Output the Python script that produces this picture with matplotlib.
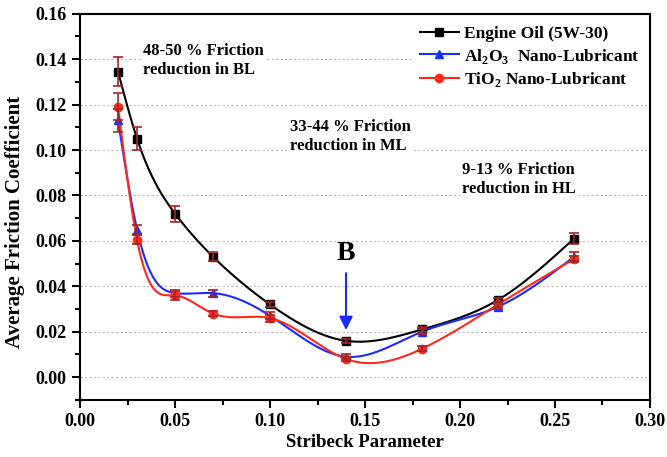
import numpy as np
import matplotlib
matplotlib.use("Agg")
import matplotlib.pyplot as plt
from matplotlib.ticker import MultipleLocator, FormatStrFormatter

plt.rcParams['font.family'] = ['Liberation Serif', 'DejaVu Serif']
plt.rcParams['font.weight'] = 'bold'
plt.rcParams['mathtext.fontset'] = 'custom'
plt.rcParams['mathtext.rm'] = 'Liberation Serif:bold'
plt.rcParams['mathtext.bf'] = 'Liberation Serif:bold'

stribeck = [0.02, 0.03, 0.05, 0.07, 0.10, 0.14, 0.18, 0.22, 0.26]
oil = [0.1345, 0.105, 0.072, 0.053, 0.032, 0.016, 0.021, 0.034, 0.061]
oil_err = [0.0065, 0.005, 0.0035, 0.002, 0.001, 0.001, 0.001, 0.001, 0.0025]
al2o3 = [0.113, 0.065, 0.037, 0.037, 0.027, 0.009, 0.020, 0.031, 0.053]
al2o3_err = [0.005, 0.002, 0.0015, 0.0015, 0.0015, 0.001, 0.001, 0.001, 0.002]
tio2 = [0.119, 0.0605, 0.036, 0.028, 0.026, 0.008, 0.0125, 0.032, 0.052]
tio2_err = [0.006, 0.002, 0.002, 0.001, 0.0015, 0.001, 0.001, 0.001, 0.0015]


def natural_spline(x, y, n=300):
    # natural cubic spline through the measured points
    x = np.asarray(x, float)
    y = np.asarray(y, float)
    h = np.diff(x)
    m = len(x)
    A = np.zeros((m, m))
    b = np.zeros(m)
    A[0, 0] = A[-1, -1] = 1
    for i in range(1, m - 1):
        A[i, i - 1] = h[i - 1]
        A[i, i] = 2 * (h[i - 1] + h[i])
        A[i, i + 1] = h[i]
        b[i] = 6 * ((y[i + 1] - y[i]) / h[i] - (y[i] - y[i - 1]) / h[i - 1])
    M = np.linalg.solve(A, b)
    xs = np.linspace(x[0], x[-1], n)
    idx = np.clip(np.searchsorted(x, xs) - 1, 0, m - 2)
    x0, x1 = x[idx], x[idx + 1]
    hh = x1 - x0
    t0, t1 = x1 - xs, xs - x0
    ys = (M[idx] * t0**3 + M[idx + 1] * t1**3) / (6 * hh) \
        + (y[idx] / hh - M[idx] * hh / 6) * t0 \
        + (y[idx + 1] / hh - M[idx + 1] * hh / 6) * t1
    return xs, ys


fig, ax = plt.subplots(figsize=(6.67, 4.57), dpi=100)
fig.subplots_adjust(left=0.12, right=0.9745, top=0.97, bottom=0.125)

series = [
    (oil, oil_err, 'black', 's', 'Engine Oil (5W-30)'),
    (al2o3, al2o3_err, '#1a2cff', '^', r'Al$_2$O$_3$  Nano-Lubricant'),
    (tio2, tio2_err, '#ff2a1a', 'o', r'TiO$_2$ Nano-Lubricant'),
]
for y, err, col, mk, lab in series:
    xs, ys = natural_spline(stribeck, y)
    ax.plot(xs, ys, color=col, lw=1.5, zorder=3)
    ax.plot(stribeck, y, ls='none', marker=mk, color=col, ms=6, zorder=4)
    ax.plot([], [], color=col, marker=mk, ms=6, lw=1.5, label=lab)
    ax.errorbar(stribeck, y, yerr=err, fmt='none', ecolor='#a02828',
                elinewidth=1.2, capsize=3.5, capthick=1.2, zorder=5)

ax.set_xlim(0, 0.30)
ax.set_ylim(-0.01, 0.16)
ax.xaxis.set_major_locator(MultipleLocator(0.05))
ax.xaxis.set_minor_locator(MultipleLocator(0.025))
ax.yaxis.set_major_locator(MultipleLocator(0.02))
ax.yaxis.set_minor_locator(MultipleLocator(0.01))
ax.xaxis.set_major_formatter(FormatStrFormatter('%.2f'))
ax.yaxis.set_major_formatter(FormatStrFormatter('%.2f'))
ax.tick_params(which='major', direction='out', length=6, width=1.5, labelsize=13)
ax.tick_params(which='minor', direction='out', length=3.5, width=1.5)
for s in ax.spines.values():
    s.set_linewidth(1.5)
for lbl in ax.get_xticklabels() + ax.get_yticklabels():
    lbl.set_fontweight('bold')

ax.grid(axis='y', which='major', ls=(0, (2, 2)), color='#bbbbbb', lw=0.8, zorder=0)

ax.set_xlabel('Stribeck Parameter', fontsize=13.5, fontweight='bold', labelpad=3)
ax.set_ylabel('Average Friction Coefficient', fontsize=15, fontweight='bold')
ax.yaxis.set_label_coords(-0.097, 0.46)

notes = [
    (0.033, 0.1395, '48-50 % Friction\nreduction in BL'),
    (0.1105, 0.106, '33-44 % Friction\nreduction in ML'),
    (0.2009, 0.0871, '9-13 % Friction\nreduction in HL'),
]
for x, y, t in notes:
    ax.text(x, y, t, fontsize=12, fontweight='bold', va='center', ha='left',
            linespacing=1.25, zorder=2,
            bbox=dict(facecolor='white', edgecolor='none', pad=1))

ax.annotate('', xy=(0.14, 0.0195), xytext=(0.14, 0.047),
            arrowprops=dict(arrowstyle='-|>', color='#1a2cff', lw=1.5,
                            mutation_scale=20), zorder=6)
ax.text(0.14, 0.0545, 'B', fontsize=20, fontweight='bold', ha='center', va='center')

leg = ax.legend(loc='upper right', bbox_to_anchor=(1.0, 0.995), fontsize=12.5,
                frameon=True, handlelength=2.2, handletextpad=0.3,
                labelspacing=0.25, borderaxespad=0.2)
leg.get_frame().set_edgecolor('none')
leg.get_frame().set_facecolor('white')
leg.get_frame().set_alpha(1)
for t in leg.get_texts():
    t.set_fontweight('bold')

fig.savefig('out.png', dpi=100)
